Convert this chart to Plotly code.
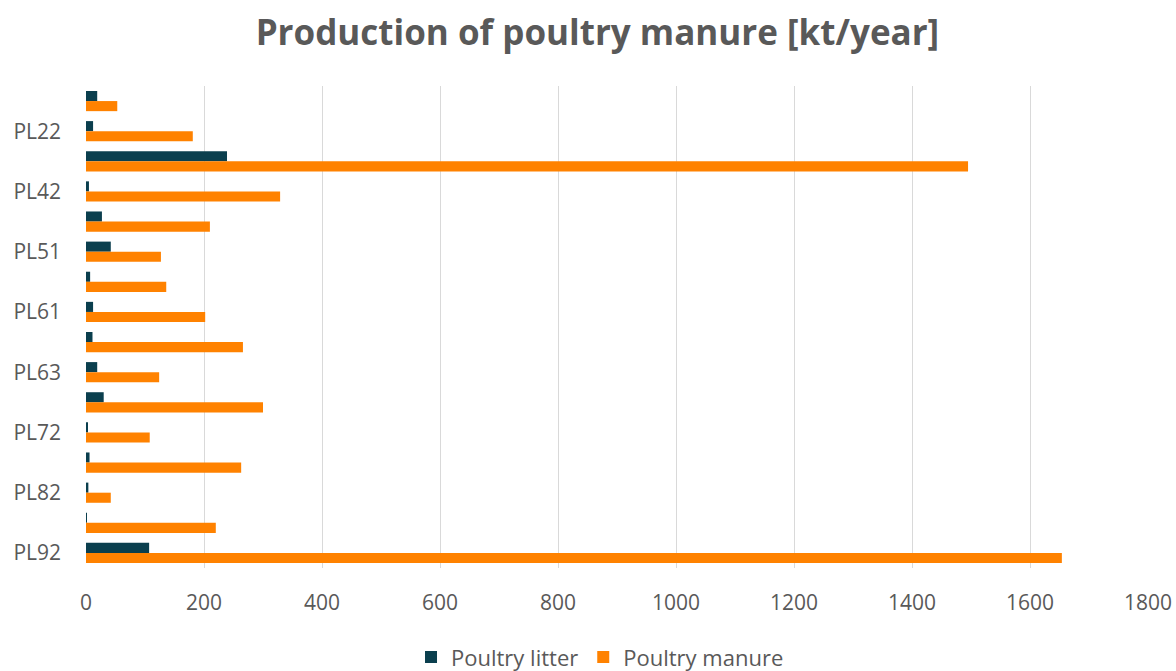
import plotly.graph_objects as go

categories = ["PL21", "PL22", "PL41", "PL42", "PL43", "PL51", "PL52", "PL61",
              "PL62", "PL63", "PL71", "PL72", "PL81", "PL82", "PL84", "PL92"]
poultry_litter = [19, 12, 239, 5, 27, 42, 7, 12, 11, 19, 30, 2, 6, 4, 1, 107]
poultry_manure = [53, 181, 1495, 329, 210, 127, 136, 202, 266, 124, 300, 108, 263, 42, 220, 1654]
y_tick_labels = ["PL22", "PL42", "PL51", "PL61", "PL63", "PL72", "PL82", "PL92"]
x_ticks = [0, 200, 400, 600, 800, 1000, 1200, 1400, 1600, 1800]

FONT = "Open Sans"
GREY = "#595959"

fig = go.Figure()
fig.add_trace(go.Bar(y=categories, x=poultry_litter, orientation="h",
                     name="Poultry litter", marker=dict(color="#0B3F4E", line_width=0)))
fig.add_trace(go.Bar(y=categories, x=poultry_manure, orientation="h",
                     name="Poultry manure", marker=dict(color="#FF8200", line_width=0)))

fig.update_layout(
    width=1176, height=671,
    paper_bgcolor="white", plot_bgcolor="white",
    margin=dict(l=86, r=28, t=86, b=103, autoexpand=False),
    barmode="group", bargap=0.33, bargroupgap=0,
    font=dict(family=FONT, color=GREY, size=21),
    title=dict(text="<b>Production of poultry manure [kt/year]</b>",
               x=0.508, xanchor="center", y=1 - 33 / 671, yanchor="middle",
               font=dict(family=FONT, size=35, color=GREY)),
    legend=dict(orientation="h", x=0.484, xanchor="center", y=-0.185, yanchor="middle",
                font=dict(size=22, color=GREY), traceorder="normal", itemwidth=30),
    showlegend=True,
)
fig.update_xaxes(range=[0, 1800], tickvals=x_ticks, showgrid=True, gridcolor="#D9D9D9",
                 gridwidth=1, zeroline=False, showline=False, ticks="",
                 ticklabelstandoff=20, tickfont=dict(size=21, color=GREY), fixedrange=True)
fig.update_yaxes(categoryorder="array", categoryarray=categories, autorange="reversed",
                 tickvals=y_tick_labels, ticktext=y_tick_labels, showgrid=False,
                 zeroline=False, showline=False, ticks="", ticklabelstandoff=24,
                 tickfont=dict(size=21, color=GREY))

fig.write_html("out.html", config={"displayModeBar": False},
               post_script="document.body.style.margin='0';document.body.style.overflow='hidden';")
